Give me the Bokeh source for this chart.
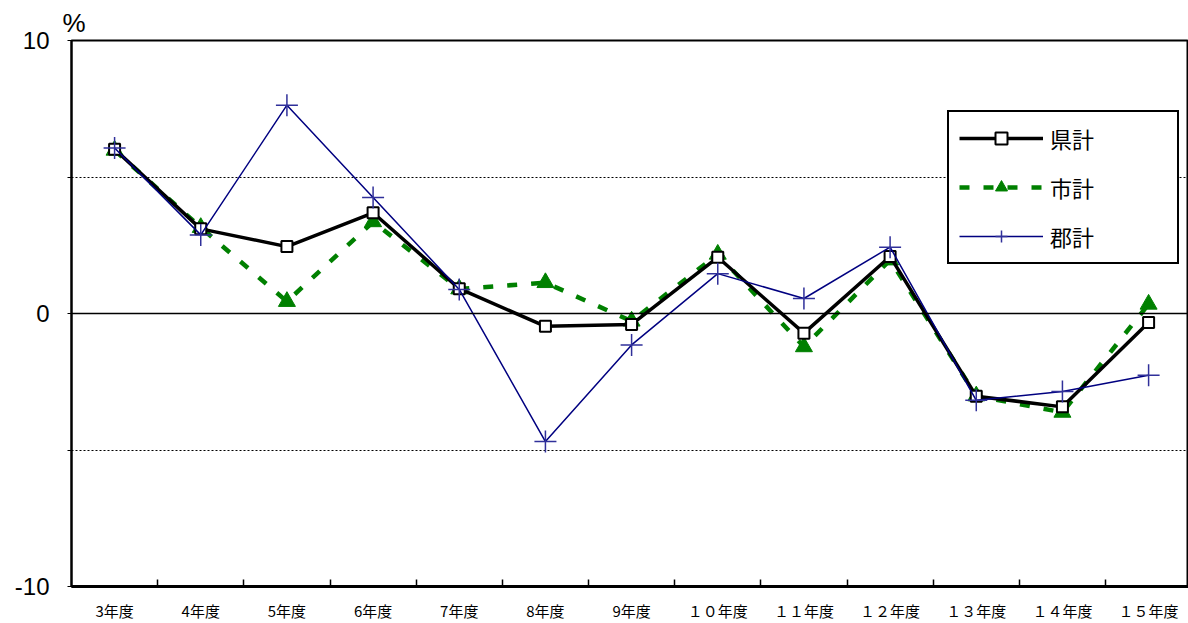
from bokeh.plotting import figure
from bokeh.models import (FixedTicker, Span, Legend, LegendItem, Title, Range1d)
from bokeh.embed import file_html
from bokeh.resources import INLINE

categories = ["3年度", "4年度", "5年度", "6年度", "7年度", "8年度", "9年度",
              "１０年度", "１１年度", "１２年度", "１３年度", "１４年度", "１５年度"]
ken = [6.02, 3.10, 2.45, 3.69, 0.91, -0.47, -0.40, 2.06, -0.72, 2.09, -3.03, -3.42, -0.33]
shi = [5.98, 3.15, 0.44, 3.36, 0.90, 1.13, -0.28, 2.17, -1.22, 1.96, -3.02, -3.62, 0.34]
gun = [6.06, 2.88, 7.63, 4.25, 0.88, -4.69, -1.15, 1.46, 0.55, 2.43, -3.18, -2.86, -2.26]

y_ticks = [-10, 0, 10]
y_labels = {-10: "-10", 0: "0", 10: "10"}
y_grid = [-5, 5]

xs = list(range(len(categories)))

p = figure(width=1188, height=623, output_backend="svg", toolbar_location=None,
           x_range=Range1d(-0.5, 12.463), y_range=Range1d(-10, 10),
           min_border_left=71, min_border_top=40, min_border_right=0,
           min_border_bottom=35)
p.title.visible = False
p.outline_line_color = "black"
p.outline_line_width = 2
p.outline_line_alpha = 1
p.background_fill_color = "white"
p.border_fill_color = "white"

# grids
p.xgrid.visible = False
p.ygrid.ticker = FixedTicker(ticks=y_grid)
p.ygrid.grid_line_color = "black"
p.ygrid.grid_line_dash = "2 2"
p.ygrid.grid_line_width = 1

p.add_layout(Span(location=0, dimension="width", line_color="black", line_width=1.5))

# x axis
xa = p.xaxis[0]
xa.ticker = FixedTicker(ticks=xs, minor_ticks=[i + 0.5 for i in xs[:-1]])
xa.major_label_overrides = {i: c for i, c in enumerate(categories)}
xa.major_tick_line_color = None
xa.minor_tick_in = 7
xa.minor_tick_out = 0
xa.minor_tick_line_color = "black"
xa.minor_tick_line_width = 1.5
xa.axis_line_width = 3
xa.axis_line_color = "black"
xa.major_label_standoff = 7
xa.major_label_text_font = "Noto Sans CJK JP"
xa.major_label_text_font_size = "15px"
xa.major_label_text_color = "black"

# y axis
ya = p.yaxis[0]
ya.ticker = FixedTicker(ticks=y_ticks, minor_ticks=y_grid)
ya.major_label_overrides = y_labels
ya.major_tick_out = 4
ya.major_tick_in = 0
ya.minor_tick_out = 4
ya.minor_tick_in = 0
ya.major_tick_line_color = "black"
ya.minor_tick_line_color = "black"
ya.axis_line_width = 2
ya.axis_line_color = "black"
ya.major_label_standoff = 18
ya.major_label_text_font = "Liberation Sans"
ya.major_label_text_font_size = "24px"
ya.major_label_text_color = "black"

# series
shi_line = p.line(xs, shi, line_color="#008000", line_width=4.5, line_dash="10 14")
shi_pts = p.scatter(xs, shi, marker="triangle", size=17, fill_color="#008000",
                    line_color="#008000")
ken_line = p.line(xs, ken, line_color="black", line_width=3.5)
ken_pts = p.scatter(xs, ken, marker="square", size=11, fill_color="white",
                    line_color="black", line_width=2)
gun_line = p.line(xs, gun, line_color="#000080", line_width=1.5)
gun_pts = p.scatter(xs, gun, marker="cross", size=22, line_color="#30309a",
                    line_width=1.5)

legend = Legend(items=[
    LegendItem(label="県計", renderers=[ken_line, ken_pts]),
    LegendItem(label="市計", renderers=[shi_line, shi_pts]),
    LegendItem(label="郡計", renderers=[gun_line, gun_pts]),
], location=(876, 322))
legend.border_line_color = "black"
legend.border_line_width = 2
legend.border_line_alpha = 1
legend.background_fill_color = "white"
legend.background_fill_alpha = 1
legend.padding = 10
legend.spacing = 17
legend.glyph_width = 84
legend.glyph_height = 30
legend.label_standoff = 7
legend.label_width = 117
legend.label_text_font = "Noto Sans CJK JP"
legend.label_text_font_size = "22px"
legend.label_text_color = "black"
legend.margin = 0
p.add_layout(legend)

pct = Title(text="%", align="left", offset=-9, standoff=6,
            text_font="Liberation Sans", text_font_size="26px",
            text_font_style="normal", text_color="black")
p.add_layout(pct, "above")

open("out.html", "w").write(file_html(p, INLINE))
